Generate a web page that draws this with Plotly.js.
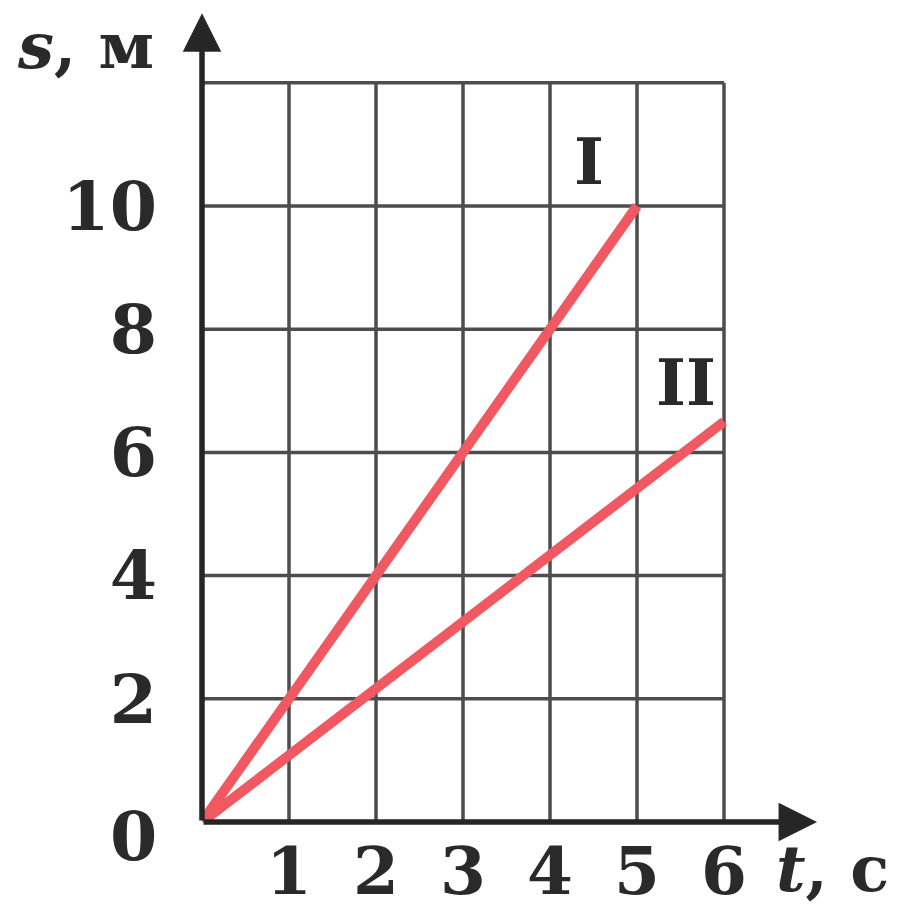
<!DOCTYPE html>
<html>
<head>
<meta charset="utf-8">
<script src="https://cdn.plot.ly/plotly-3.0.1.min.js"></script>
<style>html,body{margin:0;padding:0;background:#fff;}#chart{width:906px;height:911px;}</style>
</head>
<body>
<div id="chart"></div>
<script>
// ---- data ----
const timeI = [0, 1, 2, 3, 4, 5];
const distI = [0, 2, 4, 6, 8, 10];
const timeII = [0, 6];
const distII = [0, 6.5];
const xTickVals = [1, 2, 3, 4, 5, 6];
const xTickText = ['1', '2', '3', '4', '5', '6'];
const yTickVals = [2, 4, 6, 8, 10];
const yTickText = ['2', '4', '6', '8', '10'];
const gridXVals = [1, 2, 3, 4, 5, 6];
const gridYVals = [2, 4, 6, 8, 10, 12];
const seriesLabels = ['I', 'II'];
const labelPosT = [4.45, 5.56];
const labelPosS = [10.73, 7.14];
const xAxisLabel = '<i>t</i>, с';
const yAxisLabel = '<i>s</i>, м';
const originLabel = '0';

// ---- styling ----
const red = 'rgb(240,88,98)';
const gridColor = '#4d4d4d';
const axisColor = '#262626';
const textColor = '#2a2a2a';
const fontFam = '"DejaVu Serif", "Liberation Serif", serif';

const xMax = Math.max(...gridXVals);
const yMax = Math.max(...gridYVals);

const shapes = [];
gridXVals.forEach(v => shapes.push({type: 'line', xref: 'x', yref: 'y', x0: v, x1: v, y0: 0, y1: yMax, layer: 'below', line: {color: gridColor, width: 3.5}}));
gridYVals.forEach(v => shapes.push({type: 'line', xref: 'x', yref: 'y', x0: 0, x1: xMax, y0: v, y1: v, layer: 'below', line: {color: gridColor, width: 3.5}}));

const traces = [
  {x: timeI, y: distI, mode: 'lines', line: {color: red, width: 10}, hoverinfo: 'skip', cliponaxis: false},
  {x: timeII, y: distII, mode: 'lines', line: {color: red, width: 10}, hoverinfo: 'skip', cliponaxis: false}
];

const annotations = [
  // axis arrows
  {xref: 'x', yref: 'y', axref: 'x', ayref: 'y', x: 7.07, y: 0, ax: 0, ay: 0, text: '', showarrow: true, arrowhead: 2, arrowsize: 1.4, arrowwidth: 5.5, arrowcolor: axisColor, standoff: 0, startstandoff: 0},
  {xref: 'x', yref: 'y', axref: 'x', ayref: 'y', x: 0, y: 13.13, ax: 0, ay: 0, text: '', showarrow: true, arrowhead: 2, arrowsize: 1.4, arrowwidth: 5.5, arrowcolor: axisColor, standoff: 0, startstandoff: 0},
  // origin label
  {xref: 'x', yref: 'y', x: 0, y: 0, text: originLabel, showarrow: false, xshift: -69, yshift: -14, font: {family: fontFam, size: 68, color: textColor, weight: 'bold'}},
  // axis titles
  {xref: 'paper', yref: 'paper', x: 0, y: 1, text: yAxisLabel, showarrow: false, xanchor: 'center', yanchor: 'middle', xshift: -117, yshift: -37, font: {family: fontFam, size: 64, color: textColor, weight: 'bold'}},
  {xref: 'x', yref: 'y', x: 6, y: 0, text: xAxisLabel, showarrow: false, xanchor: 'left', yanchor: 'middle', xshift: 50, yshift: -46, font: {family: fontFam, size: 64, color: textColor, weight: 'bold'}}
];
seriesLabels.forEach((lab, i) => annotations.push({xref: 'x', yref: 'y', x: labelPosT[i], y: labelPosS[i], text: lab, showarrow: false, font: {family: fontFam, size: 64, color: textColor, weight: 'bold'}}));

const layout = {
  width: 906, height: 911,
  margin: {l: 202, r: 84, t: 8, b: 89, pad: 0},
  paper_bgcolor: '#fff', plot_bgcolor: '#fff',
  showlegend: false,
  xaxis: {range: [0, 620 / 87], tickvals: xTickVals, ticktext: xTickText, showgrid: false, zeroline: false, showline: false, ticks: '', ticklabelstandoff: 5, automargin: false, fixedrange: true,
          tickfont: {family: fontFam, size: 66, color: textColor, weight: 'bold'}},
  yaxis: {range: [0, 814 / 61.6], tickvals: yTickVals, ticktext: yTickText, showgrid: false, zeroline: false, showline: false, ticks: '', ticklabelstandoff: 44, automargin: false, fixedrange: true,
          tickfont: {family: fontFam, size: 68, color: textColor, weight: 'bold'}},
  shapes: shapes,
  annotations: annotations
};

Plotly.newPlot('chart', traces, layout, {staticPlot: true, displayModeBar: false});
</script>
</body>
</html>
